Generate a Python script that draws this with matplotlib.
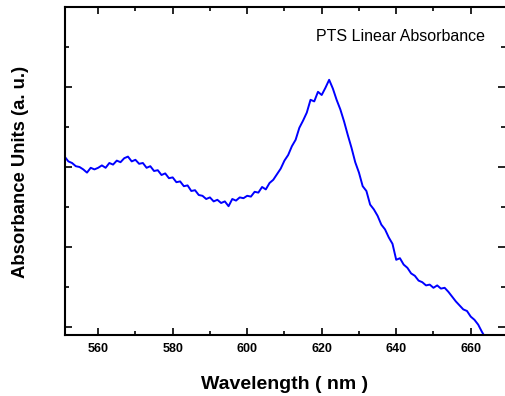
import matplotlib
matplotlib.use("Agg")
import matplotlib.pyplot as plt
from matplotlib.ticker import MultipleLocator, NullFormatter

wavelength = list(range(551, 666))
absorbance = [
    0.213, 0.207, 0.205, 0.201, 0.200, 0.197, 0.193, 0.199, 0.197, 0.199,
    0.202, 0.199, 0.205, 0.203, 0.208, 0.206, 0.211, 0.213, 0.207, 0.209,
    0.204, 0.205, 0.199, 0.201, 0.195, 0.196, 0.190, 0.192, 0.186, 0.187,
    0.181, 0.182, 0.176, 0.177, 0.170, 0.171, 0.165, 0.164, 0.160, 0.162,
    0.157, 0.159, 0.155, 0.157, 0.151, 0.160, 0.158, 0.162, 0.161, 0.164,
    0.163, 0.169, 0.168, 0.175, 0.172, 0.180, 0.184, 0.191, 0.198, 0.208,
    0.215, 0.226, 0.234, 0.249, 0.258, 0.268, 0.284, 0.282, 0.294, 0.290,
    0.299, 0.309, 0.298, 0.284, 0.272, 0.257, 0.240, 0.224, 0.206, 0.193,
    0.176, 0.170, 0.153, 0.147, 0.139, 0.128, 0.122, 0.112, 0.104, 0.084,
    0.086, 0.078, 0.074, 0.067, 0.064, 0.058, 0.056, 0.052, 0.053, 0.049,
    0.052, 0.048, 0.049, 0.044, 0.038, 0.032, 0.027, 0.022, 0.020, 0.013,
    0.009, 0.003, -0.006, -0.014, -0.020,
]
x_ticks = [560, 580, 600, 620, 640, 660]
title_text = "PTS Linear Absorbance"

plt.rcParams['font.family'] = ['Liberation Sans', 'DejaVu Sans']

fig = plt.figure(figsize=(5.05, 3.96), dpi=100)
ax = fig.add_axes([65/505, 1-335/396, 1-65/505, (335-7)/396])

ax.plot(wavelength, absorbance, color='#0000ff', lw=1.4)
ax.set_xlim(551.1, 669.2)
ax.set_ylim(-0.010, 0.400)

ax.set_xticks(x_ticks)
ax.xaxis.set_minor_locator(MultipleLocator(10))
ax.yaxis.set_major_locator(MultipleLocator(0.1))
ax.yaxis.set_minor_locator(MultipleLocator(0.05))
ax.yaxis.set_major_formatter(NullFormatter())

ax.tick_params(which='both', direction='in', top=True, right=True, width=1.2)
ax.tick_params(which='major', length=5)
ax.tick_params(which='minor', length=3)
ax.tick_params(axis='x', labelsize=9, pad=6)
for lbl in ax.get_xticklabels():
    lbl.set_fontweight('bold')
for s in ax.spines.values():
    s.set_linewidth(1.5)
ax.spines['right'].set_visible(False)

ax.set_xlabel("Wavelength ( nm )", fontsize=14, fontweight='bold')
ax.xaxis.set_label_coords(0.5, -(376-335)/328)
ax.set_ylabel("Absorbance Units (a. u.)", fontsize=13.3, fontweight='bold')
ax.yaxis.set_label_coords(-(65-29)/440, 0.498)

ax.text(0.955, 0.91, title_text, transform=ax.transAxes, ha='right', va='center', fontsize=11.5)

fig.savefig("out.png", dpi=100)
